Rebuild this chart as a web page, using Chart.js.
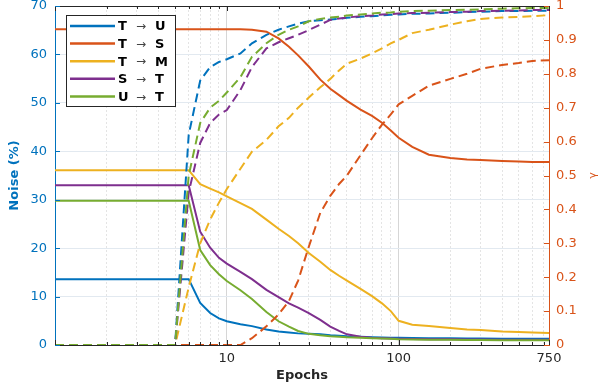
<!DOCTYPE html>
<html>
<head>
<meta charset="utf-8">
<script src="https://cdn.jsdelivr.net/npm/chart.js@4"></script>
<style>
  html, body { margin: 0; padding: 0; background: #fff; }
  #wrap { width: 600px; height: 387px; }
</style>
</head>
<body>
<div id="wrap"><canvas id="chart"></canvas></div>
<script>
// epochs the curves were read at (log x axis)
const epochs = [1, 2, 3, 4, 5, 6, 7, 8, 9, 10, 12, 14, 17, 20, 23, 26, 30, 35, 40, 45,
  50, 60, 70, 80, 90, 100, 120, 150, 200, 250, 300, 400, 500, 600, 750];

const names = ['T|U', 'T|S', 'T|M', 'S|T', 'U|T'];
const colors = ['#0072BD', '#D95319', '#EDB120', '#7E2F8E', '#77AC30'];

// noise (%) - solid lines, left axis
const noiseTU = [13.6, 13.6, 13.6, 13.6, 13.6, 13.6, 8.7, 6.6, 5.5, 4.9, 4.3, 3.9, 3.2, 2.8, 2.6, 2.4, 2.3, 2.2, 2.0, 1.9,
  1.8, 1.7, 1.6, 1.55, 1.5, 1.5, 1.45, 1.4, 1.4, 1.35, 1.35, 1.3, 1.3, 1.3, 1.3];
const noiseTS = [65.2, 65.2, 65.2, 65.2, 65.2, 65.2, 65.2, 65.2, 65.2, 65.2, 65.2, 65.1, 64.7, 63.3, 61.6, 59.8, 57.5, 54.8, 52.9, 51.6,
  50.4, 48.6, 47.3, 45.9, 44.3, 42.8, 40.9, 39.3, 38.6, 38.3, 38.2, 38.0, 37.9, 37.8, 37.8];
const noiseTM = [36.1, 36.1, 36.1, 36.1, 36.1, 36.1, 33.2, 32.3, 31.5, 30.7, 29.3, 28.1, 25.9, 24.0, 22.5, 21.0, 19.0, 17.2, 15.5, 14.3,
  13.3, 11.6, 10.1, 8.6, 7.0, 5.0, 4.2, 3.9, 3.5, 3.2, 3.1, 2.8, 2.7, 2.6, 2.5];
const noiseST = [33.0, 33.0, 33.0, 33.0, 33.0, 33.0, 23.4, 20.1, 18.0, 16.8, 15.1, 13.6, 11.4, 9.9, 8.6, 7.7, 6.6, 5.2, 3.8, 2.9,
  2.2, 1.7, 1.5, 1.4, 1.35, 1.3, 1.25, 1.2, 1.2, 1.15, 1.15, 1.1, 1.1, 1.1, 1.1];
const noiseUT = [29.8, 29.8, 29.8, 29.8, 29.8, 29.8, 19.6, 16.5, 14.6, 13.2, 11.3, 9.5, 6.8, 4.9, 3.8, 2.9, 2.3, 2.0, 1.8, 1.7,
  1.6, 1.5, 1.4, 1.35, 1.3, 1.2, 1.15, 1.1, 1.1, 1.05, 1.05, 1.0, 1.0, 1.0, 1.0];

// gamma - dashed lines, right axis
const gammaTU = [0, 0, 0, 0, 0, 0.62, 0.78, 0.82, 0.835, 0.843, 0.86, 0.89, 0.915, 0.93, 0.94, 0.948, 0.955, 0.958, 0.96, 0.962,
  0.965, 0.968, 0.97, 0.972, 0.974, 0.975, 0.977, 0.978, 0.98, 0.982, 0.983, 0.985, 0.985, 0.986, 0.986];
const gammaTS = [0, 0, 0, 0, 0, 0, 0, 0, 0, 0, 0, 0.02, 0.055, 0.09, 0.13, 0.19, 0.29, 0.39, 0.44, 0.475,
  0.50, 0.56, 0.61, 0.65, 0.68, 0.71, 0.735, 0.765, 0.785, 0.80, 0.815, 0.826, 0.832, 0.838, 0.84];
const gammaTM = [0, 0, 0, 0, 0, 0.17, 0.30, 0.37, 0.42, 0.46, 0.52, 0.57, 0.605, 0.645, 0.67, 0.70, 0.73, 0.76, 0.785, 0.81,
  0.83, 0.845, 0.86, 0.875, 0.89, 0.90, 0.92, 0.93, 0.945, 0.955, 0.962, 0.966, 0.968, 0.97, 0.973];
const gammaST = [0, 0, 0, 0, 0, 0.45, 0.596, 0.655, 0.68, 0.693, 0.752, 0.82, 0.875, 0.893, 0.905, 0.915, 0.929, 0.945, 0.959, 0.963,
  0.966, 0.97, 0.972, 0.975, 0.976, 0.978, 0.979, 0.98, 0.982, 0.983, 0.985, 0.986, 0.987, 0.988, 0.988];
const gammaUT = [0, 0, 0, 0, 0, 0.50, 0.655, 0.70, 0.72, 0.745, 0.79, 0.85, 0.89, 0.915, 0.93, 0.94, 0.955, 0.962, 0.966, 0.968,
  0.972, 0.975, 0.978, 0.98, 0.981, 0.983, 0.985, 0.986, 0.988, 0.989, 0.99, 0.992, 0.993, 0.994, 0.994];

// x tick positions and which of them get a label
const xTicks = [1, 2, 3, 4, 5, 6, 7, 8, 9, 10, 20, 30, 40, 50, 60, 70, 80, 90, 100, 200, 300, 400, 500, 600, 700, 750];
const xLabels = [10, 100, 750];
const noiseTicks = [0, 10, 20, 30, 40, 50, 60, 70];
const gammaTicks = [0, 0.1, 0.2, 0.3, 0.4, 0.5, 0.6, 0.7, 0.8, 0.9, 1];

const noise = [noiseTU, noiseTS, noiseTM, noiseST, noiseUT];
const gamma = [gammaTU, gammaTS, gammaTM, gammaST, gammaUT];

function pts(vals) {
  return epochs.map((e, i) => ({ x: e, y: vals[i] }));
}

let datasets = [];
noise.forEach((vals, i) => {
  datasets.push({ label: names[i], data: pts(vals), yAxisID: 'y', borderColor: colors[i], borderWidth: 2 });
});
gamma.forEach((vals, i) => {
  datasets.push({ label: names[i] + ' g', data: pts(vals), yAxisID: 'y1', borderColor: colors[i], borderWidth: 2, borderDash: [9, 5] });
});
datasets.forEach((d, i) => { d.order = -i; d.pointRadius = 0; d.tension = 0; d.fill = false; });

const FONT = 'DejaVu Sans';
const majorX = [1, 10, 100, 750];

// legend box, inward ticks, top border and the gamma label
const extras = {
  id: 'extras',
  afterDraw(chart) {
    const ctx = chart.ctx;
    const a = chart.chartArea;
    const sx = chart.scales.x, sy = chart.scales.y, sy1 = chart.scales.y1;
    ctx.save();
    // top border
    ctx.strokeStyle = '#262626';
    ctx.lineWidth = 1;
    ctx.beginPath();
    ctx.moveTo(a.left, a.top + 0.5);
    ctx.lineTo(a.right, a.top + 0.5);
    ctx.stroke();
    // inward ticks
    xTicks.forEach(v => {
      const x = Math.round(sx.getPixelForValue(v)) + 0.5;
      const len = majorX.includes(v) ? 5 : 3;
      ctx.beginPath();
      ctx.moveTo(x, a.bottom); ctx.lineTo(x, a.bottom - len);
      ctx.moveTo(x, a.top); ctx.lineTo(x, a.top + len);
      ctx.stroke();
    });
    ctx.strokeStyle = colors[0];
    noiseTicks.forEach(v => {
      const y = Math.round(sy.getPixelForValue(v)) + 0.5;
      ctx.beginPath(); ctx.moveTo(a.left, y); ctx.lineTo(a.left + 5, y); ctx.stroke();
    });
    ctx.strokeStyle = colors[1];
    gammaTicks.forEach(v => {
      const y = Math.round(sy1.getPixelForValue(v)) + 0.5;
      ctx.beginPath(); ctx.moveTo(a.right, y); ctx.lineTo(a.right - 5, y); ctx.stroke();
    });
    // gamma label, rotated like the left one
    ctx.save();
    ctx.translate(593, (a.top + a.bottom) / 2);
    ctx.rotate(-Math.PI / 2);
    ctx.fillStyle = colors[1];
    ctx.font = '11px ' + FONT;
    ctx.textAlign = 'center';
    ctx.textBaseline = 'middle';
    ctx.fillText('\u03b3', 0, 0);
    ctx.restore();
    // legend
    const bx = 66, by = 15, bw = 109, bh = 91;
    ctx.fillStyle = '#fff';
    ctx.fillRect(bx, by, bw, bh);
    ctx.strokeStyle = '#262626';
    ctx.strokeRect(bx + 0.5, by + 0.5, bw, bh);
    ctx.textBaseline = 'middle';
    names.forEach((n, i) => {
      const y = by + 11 + i * 17.6;
      ctx.strokeStyle = colors[i];
      ctx.lineWidth = 2.5;
      ctx.beginPath(); ctx.moveTo(70, y); ctx.lineTo(115, y); ctx.stroke();
      const [from, to] = n.split('|');
      ctx.fillStyle = '#000';
      ctx.font = 'bold 13px ' + FONT;
      ctx.textAlign = 'left';
      ctx.fillText(from, 118, y + 1);
      ctx.fillText(to, 155, y + 1);
      ctx.font = '12px ' + FONT;
      ctx.fillStyle = '#444';
      ctx.textAlign = 'center';
      ctx.fillText('\u2192', 141, y + 1);
    });
    ctx.restore();
  }
};

new Chart(document.getElementById('chart'), {
  type: 'line',
  data: { datasets: datasets },
  options: {
    responsive: true,
    maintainAspectRatio: false,
    animation: false,
    layout: { padding: { top: 6, left: 0, right: 0, bottom: 0 } },
    plugins: { legend: { display: false }, tooltip: { enabled: false } },
    scales: {
      x: {
        type: 'logarithmic',
        position: 'bottom',
        min: 1,
        max: 750,
        afterBuildTicks: s => { s.ticks = xTicks.map(v => ({ value: v })); },
        afterFit: s => { s.height = 42; s.paddingLeft = 0; s.paddingRight = 0; },
        ticks: {
          autoSkip: false,
          maxRotation: 0,
          padding: 6,
          color: '#262626',
          font: { family: FONT, size: 13 },
          callback: v => xLabels.includes(v) ? String(v) : ''
        },
        grid: {
          drawTicks: false,
          color: c => (c.tick && [10, 100].includes(c.tick.value)) ? '#d6d6d6' : '#e4e4e4',
          lineWidth: 1
        },
        border: {
          color: '#262626',
          dash: c => (c.tick && [10, 100].includes(c.tick.value)) ? [] : [2, 2]
        },
        title: {
          display: true,
          text: 'Epochs',
          color: '#262626',
          font: { family: FONT, size: 13, weight: 'bold' },
          padding: { top: 0, bottom: 4 }
        }
      },
      y: {
        position: 'left',
        min: 0,
        max: 70,
        afterBuildTicks: s => { s.ticks = noiseTicks.map(v => ({ value: v })); },
        afterFit: s => { s.width = 55; s.paddingTop = 0; s.paddingBottom = 0; },
        ticks: {
          padding: 8,
          color: colors[0],
          font: { family: FONT, size: 13 }
        },
        grid: { drawTicks: false, color: '#e2e9f0', lineWidth: 1 },
        border: { color: colors[0] },
        title: {
          display: true,
          text: 'Noise (%)',
          color: colors[0],
          font: { family: FONT, size: 13, weight: 'bold' },
          padding: { top: 7, bottom: 0 }
        }
      },
      y1: {
        position: 'right',
        min: 0,
        max: 1,
        afterBuildTicks: s => { s.ticks = gammaTicks.map(v => ({ value: v })); },
        afterFit: s => { s.width = 51; s.paddingTop = 0; s.paddingBottom = 0; },
        ticks: {
          padding: 7,
          color: colors[1],
          font: { family: FONT, size: 13 },
          callback: v => String(Math.round(v * 10) / 10)
        },
        grid: { drawOnChartArea: false, drawTicks: false },
        border: { color: colors[1] }
      }
    }
  },
  plugins: [extras]
});
</script>
</body>
</html>
